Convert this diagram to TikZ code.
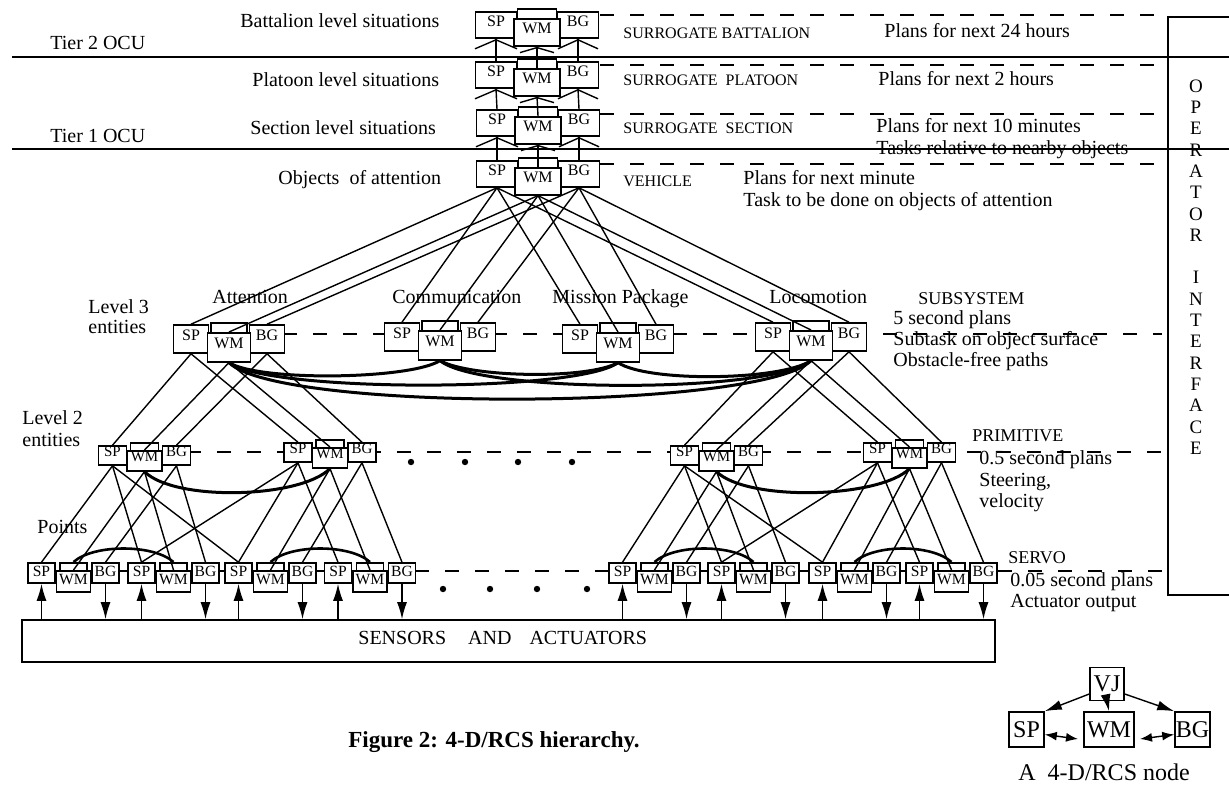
\documentclass[tikz,border=0pt]{standalone}
\usepackage{fontspec}
\setmainfont{Liberation Serif}
\usetikzlibrary{arrows.meta}

% One 4-D/RCS unit: SP box, BG box, a back frame and the WM box in front of it.
% #1 name, #2 centre x, #3 top y, #4 SP/BG width, #5 SP/BG height,
% #6 SP/BG centre offset, #7 WM width, #8 WM drop, #9 back frame rise
\newcommand{\rcsunit}[9]{%
  \node[box, minimum width=#4*0.5pt, minimum height=#5*0.5pt] (#1sp) at ({#2-#6},{#3+#5/2}) {SP};
  \node[box, minimum width=#4*0.5pt, minimum height=#5*0.5pt] (#1bg) at ({#2+#6},{#3+#5/2}) {BG};
  \node[box, minimum width=(#7-7)*0.5pt, minimum height=7pt, anchor=north] (#1wb) at (#2,{#3-#9}) {};
  \node[box, minimum width=#7*0.5pt, minimum height=(#5+1)*0.5pt, anchor=north] (#1wm) at (#2,{#3+#8}) {WM};
}
% Small fan mark under a box: #1 node, #2 half width, #3 depth
\newcommand{\fanmark}[3]{%
  \draw[link] ([shift={(-#2,#3)}]#1.south) -- ([shift={(0,1)}]#1.south) -- ([shift={(#2,#3)}]#1.south);
}

\begin{document}
\begin{tikzpicture}[x=0.5pt,y=-0.5pt,
  box/.style={draw, fill=white, line width=0.8pt, inner sep=0pt, ufont},
  ufont/.style={font=\fontsize{8}{8}\selectfont, text height=5.3pt, text depth=4.3pt},
  link/.style={line width=0.7pt},
  wmarc/.style={line width=1.5pt},
  lvl/.style={line width=0.7pt, dash pattern=on 7pt off 8pt},
  txt/.style={font=\fontsize{10}{12}\selectfont, inner sep=0pt, anchor=base west},
  caps/.style={font=\fontsize{8}{10}\selectfont, inner sep=0pt, anchor=base west},
  capb/.style={font=\fontsize{9}{10}\selectfont, inner sep=0pt, anchor=base west},
  arr/.style={line width=0.7pt, -{Latex[length=8.5pt,width=5pt]}},
  nodebox/.style={draw, line width=0.8pt, inner sep=0pt, font=\fontsize{12}{14}\selectfont},
]
\useasboundingbox (0,0) rectangle (1229,793);

% ---- tier separators and level lines ----
\draw[link] (12,57) -- (1229,57);
\draw[link] (12,149) -- (1229,149);
\foreach \yy in {15,65,114,164} \draw[lvl] (600,\yy) -- (1162,\yy);
\draw[lvl] (283,334) -- (1162,334);
\draw[lvl] (187,452) -- (1162,452);
\draw[lvl] (415,571) -- (610,571);
\draw[lvl] (998,571) -- (1162,571);
\draw[link] (55,571) -- (388,571);
\draw[link] (637,571) -- (968,571);

% ---- operator interface ----
\draw[line width=0.8pt] (1229,17) -- (1168,17) -- (1168,595) -- (1229,595);
\foreach \c [count=\i from 0] in {O,P,E,R,A,T,O,R,{},I,N,T,E,R,F,A,C,E}
  \node[font=\fontsize{9.5}{10}\selectfont, inner sep=0pt] (op\i) at (1196,{86+\i*21.3}) {\c};

% ---- upper stack ----
\rcsunit{Ta}{537}{12}{41}{26}{41}{46}{6}{4}
\rcsunit{Tb}{537}{62}{41}{26}{41}{46}{6}{4}
\rcsunit{Tc}{538}{110}{41}{26}{41}{46}{6}{4}
\rcsunit{Td}{538}{161}{41}{26}{41}{46}{6}{4}
\foreach \u/\v in {Ta/Tb,Tb/Tc,Tc/Td}{
  \foreach \p in {sp,wm,bg} \draw[link] (\u\p.south) -- (\v\p.north);
  \fanmark{\u sp}{21}{10}
  \fanmark{\u bg}{20}{10}
  \fanmark{\u wm}{17}{6}
}

% ---- subsystem level ----
\rcsunit{Att}{229}{325}{35}{28}{38}{43}{7}{3}
\rcsunit{Com}{440}{323}{35}{28}{38}{43}{7}{3}
\rcsunit{Mis}{618}{325}{35}{28}{38}{43}{7}{3}
\rcsunit{Loc}{811}{323}{35}{28}{38}{43}{7}{3}
\foreach \s in {Att,Com,Mis,Loc}
  \foreach \p in {sp,wm,bg} \draw[link] (Td\p.south) -- (\s\p.north);

% ---- primitive level ----
\tikzset{ufont/.style={font=\fontsize{7.5}{8}\selectfont, text height=5pt, text depth=4.5pt}}
\rcsunit{Qa}{144.5}{446}{28}{19}{32}{35}{4}{4}
\rcsunit{Qb}{330}{443}{28}{19}{32}{35}{4}{4}
\rcsunit{Qc}{716.5}{446}{28}{19}{32}{35}{4}{4}
\rcsunit{Qd}{909.5}{443}{28}{19}{32}{35}{4}{4}
\foreach \p in {sp,wm,bg}{
  \draw[link] (Att\p.south) -- (Qa\p.north);
  \draw[link] (Att\p.south) -- (Qb\p.north);
  \draw[link] (Loc\p.south) -- (Qc\p.north);
  \draw[link] (Loc\p.south) -- (Qd\p.north);
}

% ---- servo level ----
\tikzset{ufont/.style={font=\fontsize{7.8}{8}\selectfont, text height=5.2pt, text depth=2pt}}
\rcsunit{Pa}{73.5}{563}{27}{20}{32}{34}{7}{1}
\rcsunit{Pb}{173.5}{563}{27}{20}{32}{34}{7}{1}
\rcsunit{Pc}{270.5}{563}{27}{20}{32}{34}{7}{1}
\rcsunit{Pd}{370}{563}{27}{20}{32}{34}{7}{1}
\rcsunit{Pe}{654.5}{563}{27}{20}{32}{34}{7}{1}
\rcsunit{Pf}{753.5}{563}{27}{20}{32}{34}{7}{1}
\rcsunit{Pg}{854.5}{563}{27}{20}{32}{34}{7}{1}
\rcsunit{Ph}{951.5}{563}{27}{20}{32}{34}{7}{1}
\foreach \q/\a/\b/\c in {Qa/Pa/Pb/Pc, Qb/Pb/Pc/Pd, Qc/Pe/Pf/Pg, Qd/Pf/Pg/Ph}
  \foreach \t in {\a,\b,\c} \draw[link] (\q sp.south) -- (\t sp.north);
\foreach \q/\a/\b in {Qa/Pa/Pb, Qb/Pc/Pd, Qc/Pe/Pf, Qd/Pg/Ph}
  \foreach \t in {\a,\b}{
    \draw[link] (\q wm.south) -- (\t wm.north);
    \draw[link] (\q bg.south) -- (\t bg.north);
  }

% ---- world model links ----
\draw[wmarc] (Attwm.south) .. controls +(30,19) and +(-30,19) .. (Comwm.south);
\draw[wmarc] (Attwm.south) .. controls +(40,30) and +(-40,30) .. (Miswm.south);
\draw[wmarc] (Attwm.south) .. controls +(50,50) and +(-50,50) .. (Locwm.south);
\draw[wmarc] (Comwm.south) .. controls +(30,17) and +(-30,17) .. (Miswm.south);
\draw[wmarc] (Comwm.south) .. controls +(40,33) and +(-40,33) .. (Locwm.south);
\draw[wmarc] (Miswm.south) .. controls +(30,20) and +(-30,20) .. (Locwm.south);
\draw[wmarc] (Qawm.south) .. controls +(30,30) and +(-30,30) .. (Qbwm.south);
\draw[wmarc] (Qcwm.south) .. controls +(30,30) and +(-30,30) .. (Qdwm.south);
\foreach \u/\v in {Pa/Pb,Pc/Pd,Pe/Pf,Pg/Ph}
  \draw[line width=1.3pt] (\u wb.north) .. controls +(20,-18) and +(-20,-18) .. (\v wb.north);

% ---- elision dots ----
\foreach \xx in {411,465,518,572} \fill (\xx,462) circle[radius=1.6pt];
\foreach \xx in {443,490,537,587} \fill (\xx,589) circle[radius=1.6pt];

% ---- sensors and actuators ----
\node[draw, line width=0.8pt, minimum width=486.5pt, minimum height=21pt, inner sep=0pt] (sens) at (508.5,641) {};
\node[txt] (senstxt) at (358,644) {SENSORS\hspace{11pt}AND\hspace{9pt}ACTUATORS};
\foreach \u in {Pa,Pb,Pc,Pd,Pe,Pf,Pg,Ph}{
  \draw[arr] (sens.north -| \u sp.south) -- (\u sp.south);
  \draw[arr] (\u bg.south) -- (\u bg.south |- sens.north);
}

% ---- labels, left ----
\node[txt] (l1) at (240,27) {Battalion level situations};
\node[txt] (l2) at (50,49) {Tier 2 OCU};
\node[txt] (l3) at (252,86) {Platoon level situations};
\node[txt] (l4) at (250,134) {Section level situations};
\node[txt] (l5) at (50,142) {Tier 1 OCU};
\node[txt] (l6) at (278,184) {Objects\ \ of attention};
\node[txt] (l7) at (88,313) {Level 3};
\node[txt] (l8) at (88,333) {entities};
\node[txt] (l9) at (22,424) {Level 2};
\node[txt] (l10) at (22,446) {entities};
\node[txt] (l11) at (37,533) {Points};
\node[txt] (n1) at (212,303) {Attention};
\node[txt] (n2) at (392,303) {Communication};
\node[txt] (n3) at (552,303) {Mission Package};
\node[txt] (n4) at (769,303) {Locomotion};

% ---- labels, right ----
\node[caps] (r1) at (623,38) {SURROGATE BATTALION};
\node[txt] (r2) at (884,37) {Plans for next 24 hours};
\node[caps] (r3) at (623,85) {SURROGATE\ \ PLATOON};
\node[txt] (r4) at (878,85) {Plans for next 2 hours};
\node[caps] (r5) at (623,133) {SURROGATE\ \ SECTION};
\node[txt] (r6) at (876,132) {Plans for next 10 minutes};
\node[txt] (r7) at (876,154) {Tasks relative to nearby objects};
\node[caps] (r8) at (623,186) {VEHICLE};
\node[txt] (r9) at (743,184) {Plans for next minute};
\node[txt] (r10) at (743,206) {Task to be done on objects of attention};
\node[capb] (r11) at (918,304) {SUBSYSTEM};
\node[txt] (r12) at (893,324) {5 second plans};
\node[txt] (r13) at (893,345) {Subtask on object surface};
\node[txt] (r14) at (893,366) {Obstacle-free paths};
\node[capb] (r15) at (972,441) {PRIMITIVE};
\node[txt] (r16) at (979,464) {0.5 second plans};
\node[txt] (r17) at (979,486) {Steering,};
\node[txt] (r18) at (979,507) {velocity};
\node[capb] (r19) at (1008,563) {SERVO};
\node[txt] (r20) at (1010,586) {0.05 second plans};
\node[txt] (r21) at (1010,607) {Actuator output};

% ---- caption ----
\node[font=\fontsize{11.5}{13}\selectfont\bfseries, inner sep=0pt, anchor=base west] (fig) at (348,747) {Figure 2: 4-D/RCS hierarchy.};

% ---- a single node ----
\node[nodebox, minimum width=17pt, minimum height=16.5pt] (vj) at (1107,684) {VJ};
\node[nodebox, minimum width=17.5pt, minimum height=17.5pt] (rsp) at (1026.5,729.5) {SP};
\node[nodebox, minimum width=25pt, minimum height=17.5pt] (rwm) at (1109,729.5) {WM};
\node[nodebox, minimum width=17.5pt, minimum height=17.5pt] (rbg) at (1192.5,729.5) {BG};
\draw[arr] ([yshift=-5pt]vj.west) -- (rsp.north east);
\draw[arr] (vj.south) -- (rwm.north);
\draw[arr] ([yshift=-5pt]vj.east) -- (rbg.north west);
\draw[line width=0.7pt, {Latex[length=6pt,width=4.5pt]}-{Latex[length=6pt,width=4.5pt]}] ([yshift=-2.5pt]rsp.east) -- (1078,739);
\draw[line width=0.7pt, {Latex[length=6pt,width=4.5pt]}-{Latex[length=6pt,width=4.5pt]}] (1140,739) -- ([yshift=-2.5pt]rbg.west);
\node[font=\fontsize{12}{14}\selectfont, inner sep=0pt, anchor=base west] (cap) at (1018,780) {A\ \ 4-D/RCS node};
\end{tikzpicture}
\end{document}
